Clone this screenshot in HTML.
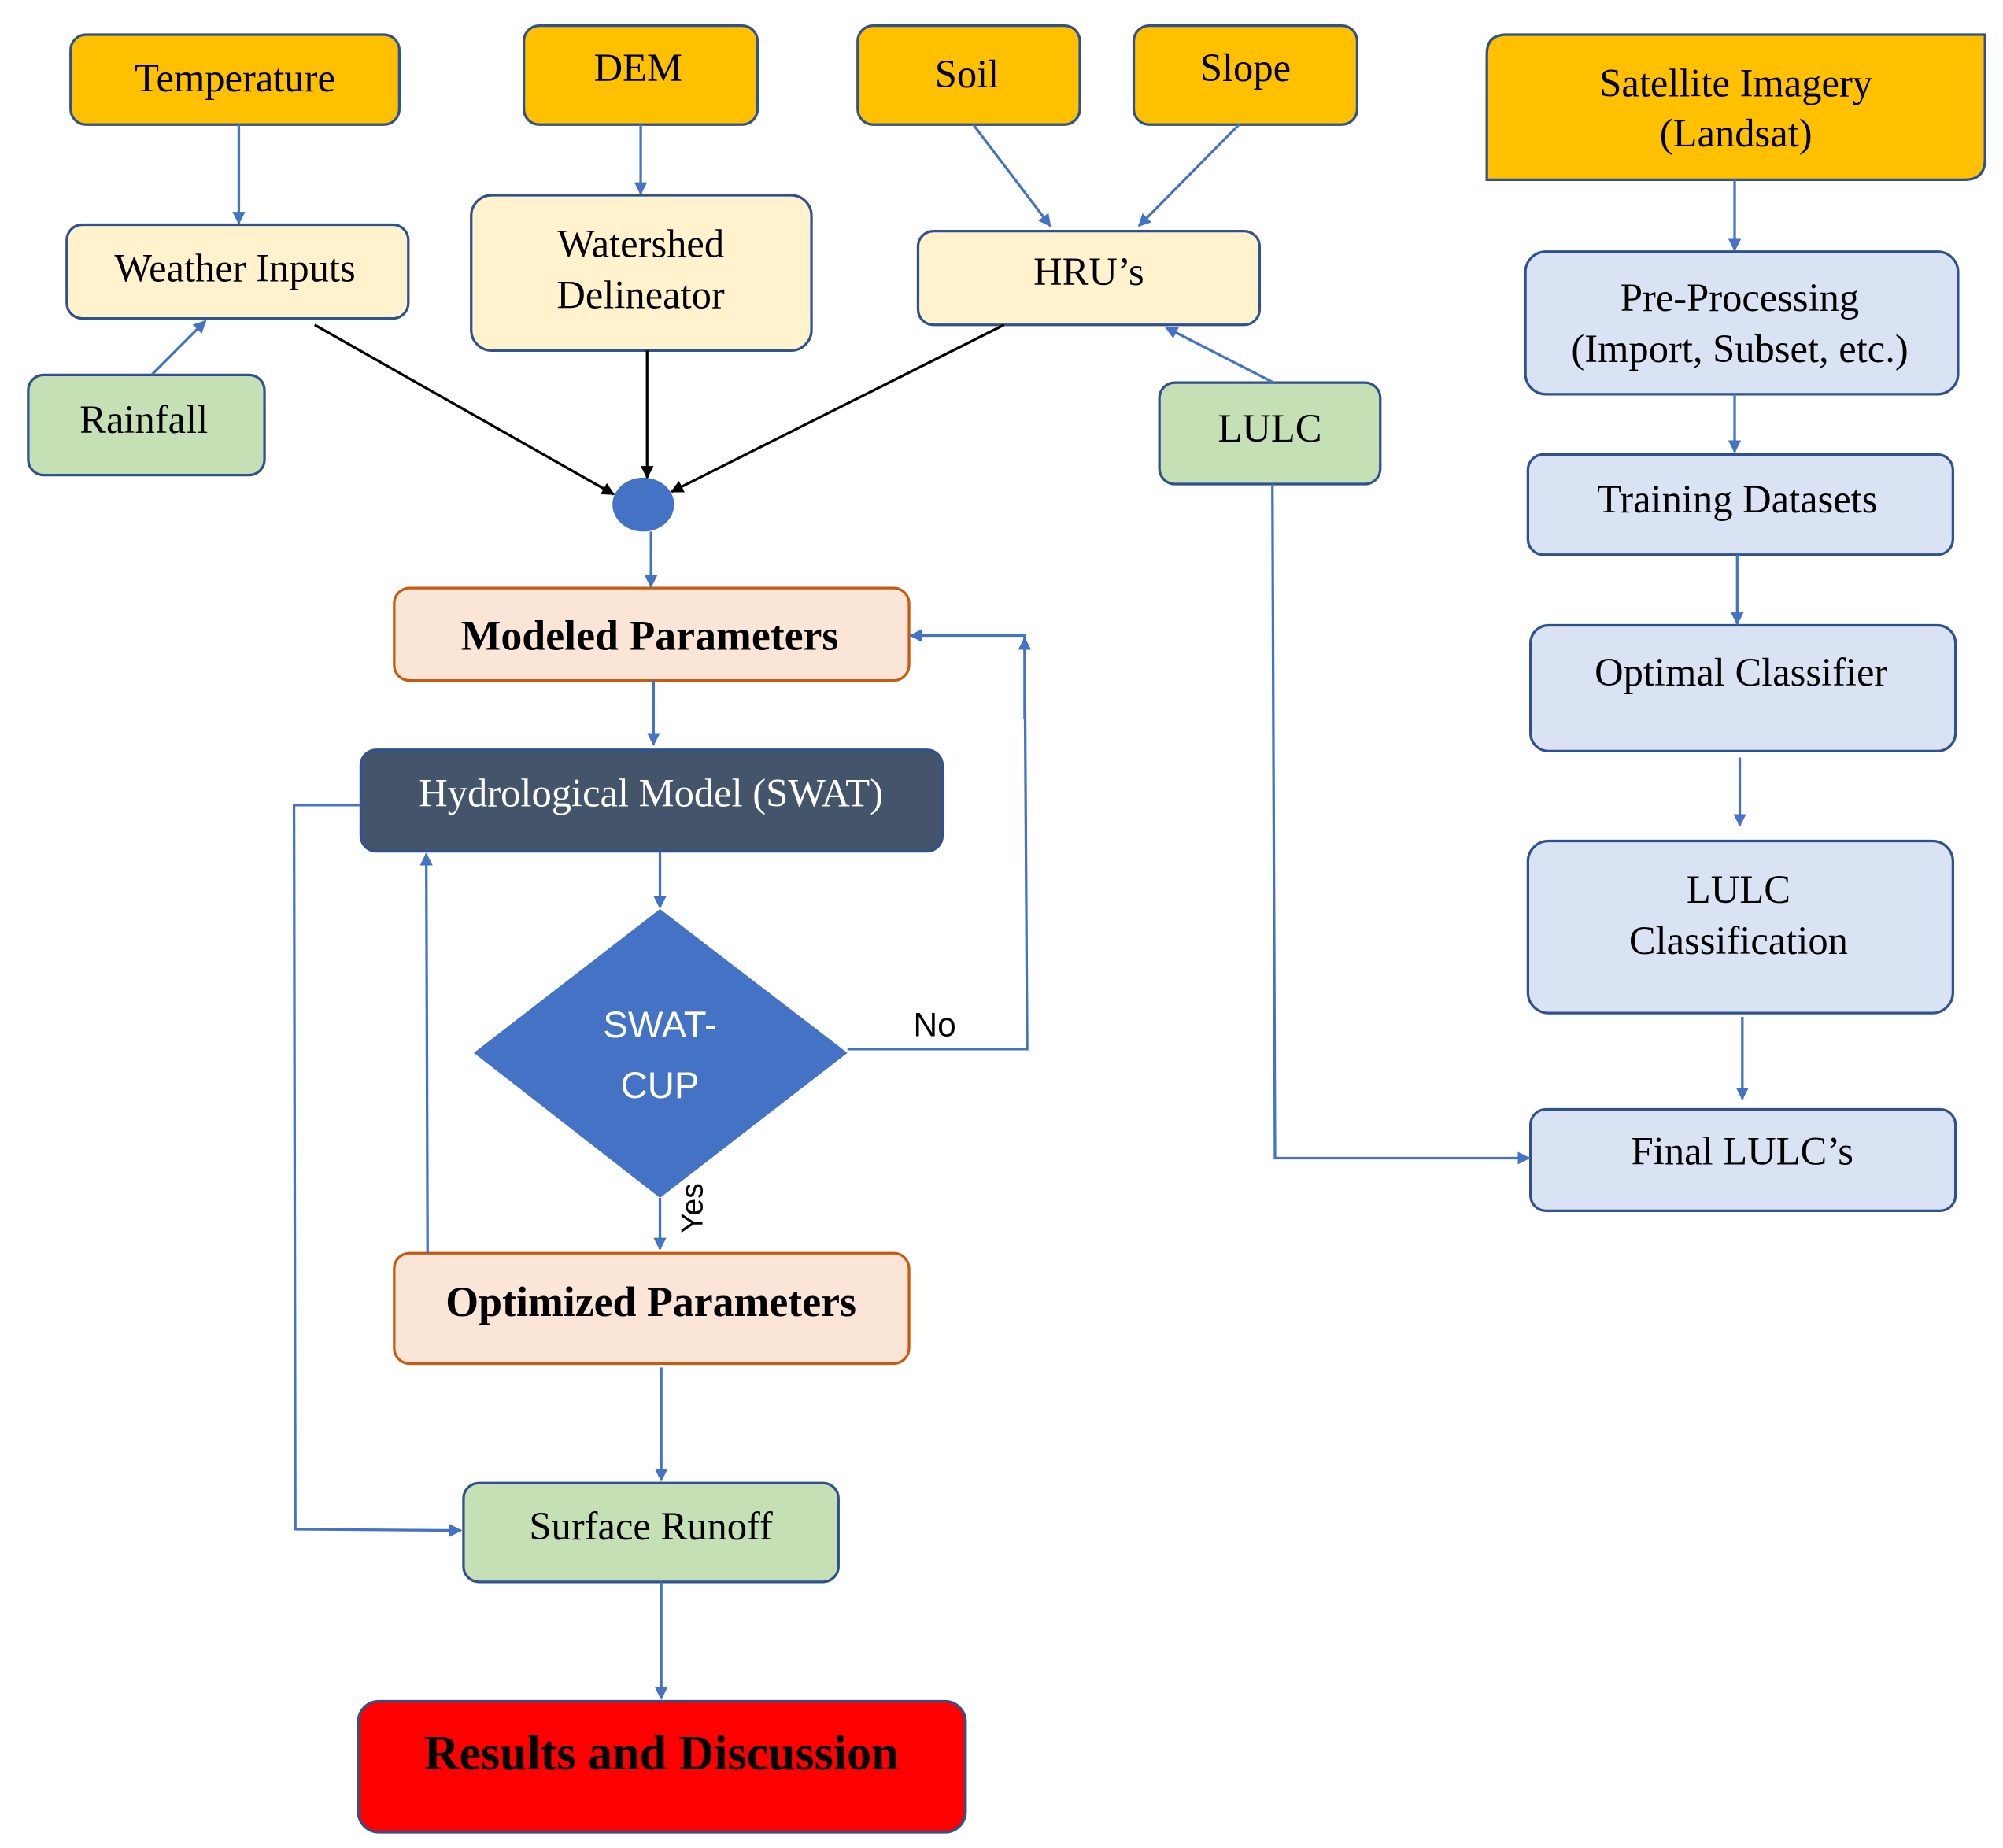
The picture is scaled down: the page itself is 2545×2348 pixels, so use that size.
<!DOCTYPE html>
<html><head><meta charset="utf-8"><style>
html,body{margin:0;padding:0;background:#fff;}
svg{display:block;}
text{font-family:"Liberation Serif",serif;fill:#000;}
</style></head><body>
<svg width="2545" height="2348" viewBox="0 0 1560 1439.3" preserveAspectRatio="none" xmlns="http://www.w3.org/2000/svg">
<defs>
<marker id="ab" viewBox="0 0 10 10" refX="9" refY="5" markerWidth="5" markerHeight="5" orient="auto"><path d="M0,0L10,5L0,10z" fill="#4472C4"/></marker>
<marker id="ak" viewBox="0 0 10 10" refX="9" refY="5" markerWidth="5" markerHeight="5" orient="auto"><path d="M0,0L10,5L0,10z" fill="#000"/></marker>
</defs>
<g stroke="#2F528F" stroke-width="2">
<rect x="55" y="27" width="256" height="70" rx="12" fill="#FFC000"/>
<rect x="408" y="20" width="182" height="77" rx="12" fill="#FFC000"/>
<rect x="668" y="20" width="173" height="77" rx="12" fill="#FFC000"/>
<rect x="883" y="20" width="174" height="77" rx="12" fill="#FFC000"/>
<path d="M1173,27 L1546,27 L1546,124 Q1546,140 1530,140 L1158,140 L1158,42 Q1158,27 1173,27z" fill="#FFC000"/>
<rect x="52" y="175" width="266" height="73" rx="12" fill="#FFF2CC"/>
<rect x="367" y="152" width="265" height="121" rx="16" fill="#FFF2CC"/>
<rect x="715" y="180" width="266" height="73" rx="12" fill="#FFF2CC"/>
<rect x="22" y="292" width="184" height="78" rx="12" fill="#C5E0B4"/>
<rect x="903" y="298" width="172" height="79" rx="12" fill="#C5E0B4"/>
<rect x="1188" y="196" width="337" height="111" rx="16" fill="#DAE3F3"/>
<rect x="1190" y="354" width="331" height="78" rx="12" fill="#DAE3F3"/>
<rect x="1192" y="487" width="331" height="98" rx="14" fill="#DAE3F3"/>
<rect x="1190" y="655" width="331" height="134" rx="16" fill="#DAE3F3"/>
<rect x="1192" y="864" width="331" height="79" rx="12" fill="#DAE3F3"/>
<rect x="281" y="584" width="453" height="79" rx="12" fill="#44546A"/>
<rect x="361" y="1155" width="292" height="77" rx="12" fill="#C5E0B4"/>
<rect x="279" y="1325" width="473" height="102" rx="16" fill="#FF0000"/>
</g>
<g stroke="#C55A11" stroke-width="2">
<rect x="307" y="458" width="401" height="72" rx="12" fill="#FBE5D6"/>
<rect x="307" y="976" width="401" height="86" rx="12" fill="#FBE5D6"/>
</g>
<ellipse cx="501" cy="393" rx="24" ry="21" fill="#4472C4"/>
<polygon points="514,708 660,820 514,933 369,820" fill="#4472C4"/>

<g stroke="#4472C4" stroke-width="2" fill="none" marker-end="url(#ab)">
<line x1="186" y1="97" x2="186" y2="174"/>
<line x1="499" y1="97" x2="499" y2="151"/>
<line x1="758" y1="97" x2="818" y2="176"/>
<line x1="965" y1="97" x2="887" y2="176"/>
<line x1="118" y1="292" x2="160" y2="250"/>
<line x1="992" y1="298" x2="908" y2="255"/>
<line x1="507" y1="414" x2="507" y2="457"/>
<line x1="509" y1="530" x2="509" y2="580"/>
<line x1="514" y1="663" x2="514" y2="707"/>
<line x1="514" y1="933" x2="514" y2="973"/>
<path d="M660,817 L800,817 L798,495 L709,495"/>
<line x1="798" y1="560" x2="798" y2="497"/>
<line x1="333" y1="976" x2="332" y2="665"/>
<path d="M281,627 L229,627 L230,1191 L359,1192"/>
<line x1="515" y1="1065" x2="515" y2="1153"/>
<line x1="515" y1="1232" x2="515" y2="1323"/>
<path d="M991,377 L993,902 L1191,902"/>
<line x1="1351" y1="140" x2="1351" y2="195"/>
<line x1="1351" y1="307" x2="1351" y2="352"/>
<line x1="1353" y1="432" x2="1353" y2="486"/>
<line x1="1355" y1="590" x2="1355" y2="643"/>
<line x1="1357" y1="792" x2="1357" y2="856"/>
</g>
<g stroke="#000" stroke-width="2" fill="none" marker-end="url(#ak)">
<line x1="245" y1="253" x2="478" y2="385"/>
<line x1="504" y1="273" x2="504" y2="372"/>
<line x1="782" y1="253" x2="523" y2="383"/>
</g>

<g font-size="31" text-anchor="middle">
<text x="183" y="71">Temperature</text>
<text x="497" y="63">DEM</text>
<text x="753" y="68">Soil</text>
<text x="970" y="63">Slope</text>
<text x="1352" y="75">Satellite Imagery</text>
<text x="1352" y="114">(Landsat)</text>
<text x="183" y="219">Weather Inputs</text>
<text x="499" y="200">Watershed</text>
<text x="499" y="240">Delineator</text>
<text x="848" y="222">HRU’s</text>
<text x="112" y="337">Rainfall</text>
<text x="989" y="344">LULC</text>
<text x="1355" y="242">Pre-Processing</text>
<text x="1355" y="282">(Import, Subset, etc.)</text>
<text x="1353" y="399">Training Datasets</text>
<text x="1356" y="534">Optimal Classifier</text>
<text x="1354" y="703">LULC</text>
<text x="1354" y="743">Classification</text>
<text x="1357" y="907">Final LULC’s</text>
<text x="507" y="628" fill="#fff" style="fill:#fff">Hydrological Model (SWAT)</text>
<text x="507" y="1199">Surface Runoff</text>
</g>
<g font-size="33" font-weight="bold" text-anchor="middle">
<text x="506" y="506">Modeled Parameters</text>
<text x="507" y="1025">Optimized Parameters</text>
<text x="515" y="1378" font-size="38">Results and Discussion</text>
</g>
<g font-family="Liberation Sans" style="font-family:'Liberation Sans',sans-serif" font-size="29" text-anchor="middle">
<text x="514" y="808" style="fill:#fff;font-family:'Liberation Sans',sans-serif">SWAT-</text>
<text x="514" y="855" style="fill:#fff;font-family:'Liberation Sans',sans-serif">CUP</text>
<text x="728" y="807" font-size="26" style="font-family:'Liberation Sans',sans-serif">No</text>
<text x="0" y="0" font-size="24" transform="translate(547,941) rotate(-90)" style="font-family:'Liberation Sans',sans-serif">Yes</text>
</g>
</svg>
</body></html>
